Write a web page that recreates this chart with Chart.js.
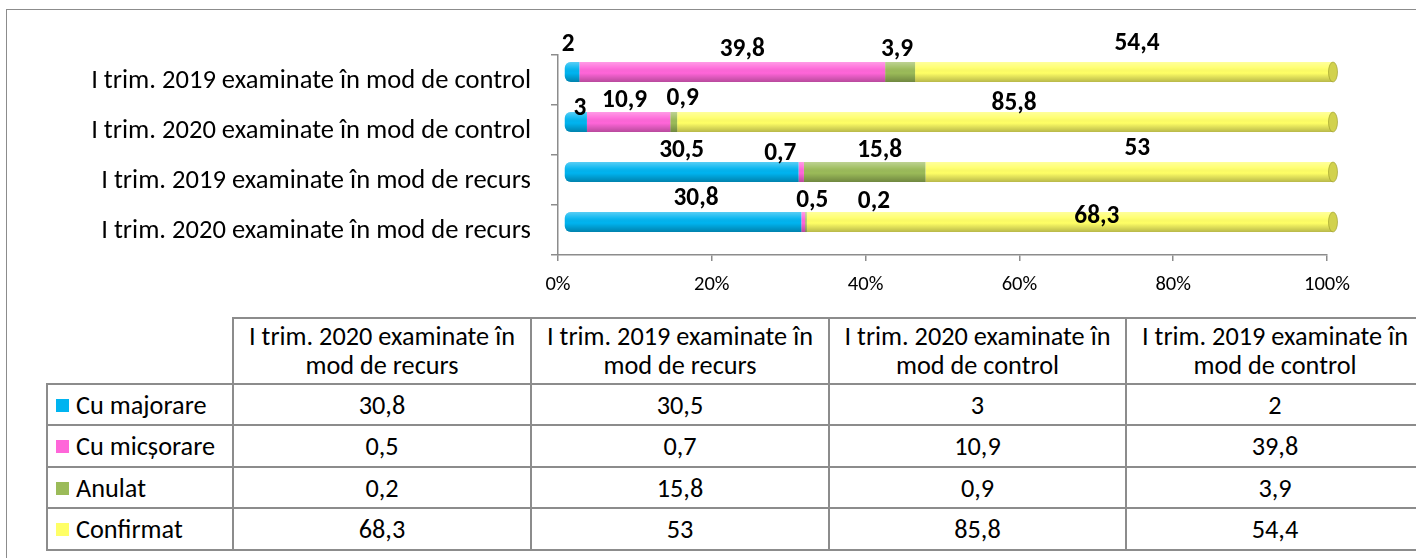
<!DOCTYPE html>
<html>
<head>
<meta charset="utf-8">
<script src="https://cdn.jsdelivr.net/npm/chart.js@4/dist/chart.umd.min.js"></script>
<style>
html,body{margin:0;padding:0;background:#fff;overflow:hidden;width:1416px;height:558px;}
#frame{position:absolute;left:6px;top:9px;width:1450px;height:600px;border:1.5px solid #8c8c8c;box-sizing:border-box;}
#wrap{position:absolute;left:0;top:0;width:1416px;height:300px;}
#tbl{position:absolute;left:46px;top:317px;border-collapse:collapse;table-layout:fixed;color:#000;}
#tbl td{border:2px solid #8c8c8c;padding:0;text-align:center;white-space:nowrap;overflow:hidden;}
#tbl td.corner{border-top:none;border-left:none;}
#tbl td.rh{text-align:left;padding-left:8px;}
.key{display:inline-block;width:13px;height:13px;margin-right:7px;vertical-align:middle;position:relative;top:-2px;}
</style>
</head>
<body>
<div id="frame"></div>
<div id="wrap"><canvas id="c" width="1416" height="300"></canvas></div>
<table id="tbl"></table>
<script>
// ---------- data ----------
const categories = [
  'I trim. 2020 examinate în mod de recurs',
  'I trim. 2019 examinate în mod de recurs',
  'I trim. 2020 examinate în mod de control',
  'I trim. 2019 examinate în mod de control'
];
const seriesNames = ['Cu majorare', 'Cu micșorare', 'Anulat', 'Confirmat'];
const cuMajorare  = [30.8, 30.5, 3, 2];
const cuMicsorare = [0.5, 0.7, 10.9, 39.8];
const anulat      = [0.2, 15.8, 0.9, 3.9];
const confirmat   = [68.3, 53, 85.8, 54.4];
const xTicks      = [0, 20, 40, 60, 80, 100];

// ---------- styles ----------
const seriesValues = [cuMajorare, cuMicsorare, anulat, confirmat];
const colors = ['#00B4F0', '#FF66D9', '#9BBB59', '#FFFF66'];
const FAMILY = 'Carlito, Lato, "Open Sans", sans-serif';
// per-label nudges (px) [series][category], like hand-placed labels
const labelNudge = [
  [[13,-1],[0,1],[4,9],[-4,-5]],
  [[9,1],[-21,4],[-4,1],[10,0]],
  [[68,2],[15,1],[9,-1],[-3,0]],
  [[27,17],[8,-1],[9,4],[13,-6]]
];
const DEPTH = {dx: 6, dy: -8};

function fitSize(text, weight, target) {
  const c = document.createElement('canvas').getContext('2d');
  c.font = weight + ' 100px ' + FAMILY;
  return 100 * target / c.measureText(text).width;
}
const axisLabelSize = fitSize('I trim. 2019 examinate în mod de control', 'normal', 440);
const tableSize = fitSize('I trim. 2020 examinate în', 'normal', 266);
const tickSize = fitSize('100%', 'normal', 46);
const valueSize = fitSize('39,8', 'bold', 45);

const fmt = v => String(v).replace('.', ',');
const totals = categories.map((_, i) => seriesValues.reduce((s, arr) => s + arr[i], 0));

const datasets = seriesNames.map((name, d) => ({
  label: name,
  data: seriesValues[d].map((v, i) => v / totals[i] * 100),
  raw: seriesValues[d],
  backgroundColor: colors[d],
  borderWidth: 0,
  borderSkipped: false,
  borderRadius: d === 0 ? {topLeft: 6, bottomLeft: 6, topRight: 0, bottomRight: 0} : 0,
  barPercentage: 0.4,
  categoryPercentage: 1
}));

const depthPlugin = {
  id: 'depth',
  beforeDatasetsDraw(chart) {
    chart.ctx.save();
    chart.ctx.translate(DEPTH.dx, DEPTH.dy);
  },
  afterDatasetsDraw(chart) {
    const ctx = chart.ctx;
    const first = chart.getDatasetMeta(0).data;
    const last = chart.getDatasetMeta(chart.data.datasets.length - 1).data;
    categories.forEach((_, i) => {
      const a = first[i], b = last[i];
      const h = a.height, top = a.y - h / 2;
      const left = Math.min(a.base, a.x), right = Math.max(b.x, b.base);
      const g = ctx.createLinearGradient(0, top, 0, top + h);
      g.addColorStop(0, 'rgba(255,255,255,0.35)');
      g.addColorStop(0.3, 'rgba(255,255,255,0.08)');
      g.addColorStop(0.55, 'rgba(0,0,0,0)');
      g.addColorStop(1, 'rgba(0,0,0,0.28)');
      ctx.save();
      ctx.beginPath();
      ctx.roundRect(left, top, right - left, h, [6, 0, 0, 6]);
      ctx.fillStyle = g;
      ctx.fill();
      // right end cap
      ctx.beginPath();
      ctx.ellipse(right, a.y, 4.5, h / 2, 0, 0, Math.PI * 2);
      ctx.fillStyle = '#d2d24e';
      ctx.fill();
      ctx.strokeStyle = 'rgba(150,150,40,0.6)';
      ctx.lineWidth = 1;
      ctx.stroke();
      ctx.restore();
    });
    // value labels
    ctx.save();
    ctx.font = 'bold ' + valueSize.toFixed(2) + 'px ' + FAMILY;
    ctx.fillStyle = '#000';
    ctx.textAlign = 'center';
    ctx.textBaseline = 'middle';
    chart.data.datasets.forEach((ds, d) => {
      chart.getDatasetMeta(d).data.forEach((el, i) => {
        const cx = (el.x + el.base) / 2;
        const top = el.y - el.height / 2;
        const n = labelNudge[d][i];
        ctx.fillText(fmt(ds.raw[i]), cx + n[0], top - 12 + n[1]);
      });
    });
    ctx.restore();
    ctx.restore();
  }
};

new Chart(document.getElementById('c'), {
  type: 'bar',
  data: {labels: categories, datasets},
  options: {
    indexAxis: 'y',
    responsive: false,
    animation: false,
    layout: {padding: {left: 0, right: 1416 - 1327, top: 55, bottom: 0}},
    plugins: {legend: {display: false}, tooltip: {enabled: false}},
    scales: {
      x: {
        stacked: true, min: 0, max: 100,
        afterBuildTicks: s => { s.ticks = xTicks.map(v => ({value: v})); },
        ticks: {callback: v => v + '%', font: {family: FAMILY, size: tickSize}, color: '#000', padding: 12, maxRotation: 0},
        grid: {drawOnChartArea: false, tickLength: 6, color: '#8c8c8c', lineWidth: 1.5},
        border: {color: '#8c8c8c', width: 1.5},
        afterFit: s => { s.height = 45; }
      },
      y: {
        stacked: true, reverse: true,
        ticks: {font: {family: FAMILY, size: axisLabelSize}, color: '#000', padding: 20, labelOffset: 1},
        grid: {drawOnChartArea: false, tickLength: 7, color: '#8c8c8c', lineWidth: 1.5, offset: true},
        border: {color: '#8c8c8c', width: 1.5},
        afterFit: s => { s.width = 558; }
      }
    }
  },
  plugins: [depthPlugin]
});

// ---------- data table (legend keys + values) ----------
const tbl = document.getElementById('tbl');
tbl.style.fontFamily = FAMILY;
tbl.style.fontSize = tableSize.toFixed(2) + 'px';
const colW = [186, 298, 298, 297, 298];
tbl.style.width = colW.reduce((s, w) => s + w, 0) + 'px';
let html = '<colgroup>' + colW.map(w => '<col style="width:' + w + 'px">').join('') + '</colgroup>';
html += '<tr style="height:66px"><td class="corner"></td>' + categories.map(c => {
  const k = c.indexOf('în ') + 2;
  return '<td style="line-height:29px">' + c.slice(0, k) + '<br>' + c.slice(k + 1) + '</td>';
}).join('') + '</tr>';
const rowH = [41, 42, 41, 42];
seriesNames.forEach((name, d) => {
  html += '<tr style="height:' + rowH[d] + 'px"><td class="rh"><span class="key" style="background:' + colors[d] + '"></span>' + name + '</td>' +
    seriesValues[d].map(v => '<td>' + fmt(v) + '</td>').join('') + '</tr>';
});
tbl.innerHTML = html;
</script>
</body>
</html>
